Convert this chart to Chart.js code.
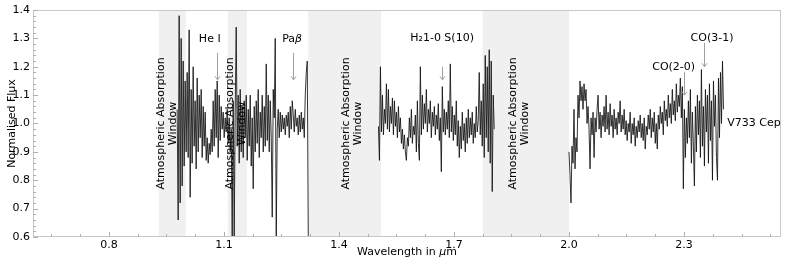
<!DOCTYPE html>
<html>
<head>
<meta charset="utf-8">
<script src="https://cdn.jsdelivr.net/npm/chart.js@4"></script>
<style>
  html, body { margin: 0; padding: 0; background: #fff; }
  #wrap { width: 789px; height: 263px; }
</style>
</head>
<body>
<div id="wrap"><canvas id="spec" width="789" height="263"></canvas></div>
<script>
// axis ticks
const xTicks = [0.8, 1.1, 1.4, 1.7, 2.0, 2.3];
const yTicks = [0.6, 0.7, 0.8, 0.9, 1.0, 1.1, 1.2, 1.3, 1.4];

// atmospheric absorption windows (um) and where their labels sit
const bands = [[0.93, 1.0], [1.11, 1.16], [1.32, 1.51], [1.775, 2.0]];
const bandLabelX = [0.952, 1.132, 1.435, 1.871];

// spectral lines: label, arrow wavelength, label pos, arrow start/end flux
const lineNames = ["He I", "Paβ", "H₂1-0 S(10)", "CO(2-0)", "CO(3-1)"];
const lineWave = [1.083, 1.280, 1.669, 2.301, 2.353];
const lineTextX = [1.063, 1.278, 1.669, 2.273, 2.373];
const lineTextY = [1.298, 1.298, 1.302, 1.200, 1.301];
const arrowTop = [1.249, 1.249, 1.200, 1.182, 1.284];
const arrowTip = [1.154, 1.154, 1.154, 1.100, 1.200];

// spectrum, three pieces (J, H, K), evenly sampled between start and end wavelength
const jRange = [0.978, 1.320];
const jFlux = [
  1.05, 0.66, 1.38, 0.72, 1.30, 0.78, 1.22, 0.85, 1.15, 0.90,
  1.18, 0.88, 1.33, 0.74, 1.12, 0.86, 1.20, 0.92, 1.08, 0.84,
  1.16, 0.90, 1.10, 0.95, 1.12, 0.88, 1.06, 0.92, 1.04, 0.87,
  0.95, 0.86, 0.93, 0.89, 0.98, 0.90, 1.08, 0.92, 1.12, 0.95,
  1.15, 0.88, 1.10, 0.94, 1.06, 0.98, 1.04, 0.95, 1.02, 0.97,
  1.05, 0.93, 1.02, 0.90, 0.98, 0.60, 1.08, 0.60, 1.05, 1.34,
  0.92, 1.10, 0.86, 1.12, 0.90, 1.06, 0.88, 1.08, 0.95, 1.10,
  0.87, 1.05, 0.92, 1.10, 0.85, 1.02, 0.77, 1.06, 0.90, 1.08,
  0.93, 1.12, 0.88, 1.04, 0.95, 1.10, 0.90, 1.06, 0.92, 1.21,
  0.94, 1.10, 0.90, 1.08, 0.95, 0.67, 1.12, 1.02, 1.30, 0.60,
  0.98, 1.05, 0.95, 1.04, 0.97, 1.03, 0.98, 1.02, 0.96, 1.03,
  0.99, 1.04, 0.95, 1.06, 0.98, 1.08, 1.03, 0.97, 1.05, 0.99,
  1.02, 0.96, 1.03, 0.97, 1.04, 0.98, 1.02, 0.95, 1.10, 1.18,
  1.22, 0.60
];
const hRange = [1.503, 1.805];
const hFlux = [
  0.99, 0.87, 1.20, 0.97, 1.10, 0.96, 1.05, 1.00, 1.14, 0.98,
  1.12, 0.97, 1.06, 1.00, 1.09, 0.96, 1.08, 0.99, 1.04, 0.95,
  1.06, 0.97, 1.02, 0.93, 0.98, 0.91, 0.96, 0.90, 0.87, 0.95,
  0.92, 1.02, 0.95, 1.05, 0.93, 0.99, 0.96, 1.03, 0.90, 1.08,
  0.93, 0.87, 1.20, 0.96, 1.10, 0.98, 1.07, 1.00, 1.12, 0.97,
  1.05, 1.00, 1.08, 0.95, 1.04, 0.99, 1.06, 0.96, 1.03, 0.98,
  1.07, 0.94, 1.02, 0.83, 1.13, 0.97, 1.05, 0.96, 1.04, 0.98,
  1.08, 0.95, 1.21, 0.97, 1.06, 0.94, 1.03, 0.96, 1.08, 0.92,
  1.01, 0.88, 0.99, 0.91, 1.04, 0.94, 1.00, 0.90, 1.02, 0.93,
  1.05, 0.95, 1.02, 0.96, 1.04, 0.93, 1.00, 0.95, 1.06, 0.97,
  1.01, 1.18, 0.96, 1.08, 0.92, 1.14, 0.88, 1.24, 0.95, 1.20,
  0.90, 1.26, 0.86, 1.22, 0.76, 1.10, 0.98
];
const kRange = [2.0, 2.403];
const kFlux = [
  0.90, 0.82, 0.72, 0.92, 0.86, 1.05, 0.84, 0.95, 0.90, 1.10,
  1.02, 1.15, 1.08, 1.13, 1.05, 1.14, 1.08, 1.12, 1.00, 1.06,
  0.98, 0.84, 1.02, 0.96, 1.04, 0.88, 1.02, 0.97, 1.05, 1.10,
  0.98, 1.04, 0.95, 1.03, 0.99, 1.06, 0.97, 1.10, 0.98, 1.04,
  0.96, 1.07, 0.99, 1.03, 0.95, 1.05, 0.98, 1.02, 0.96, 1.04,
  1.00, 1.08, 0.97, 1.03, 0.98, 1.05, 0.96, 1.01, 0.94, 1.00,
  0.97, 1.04, 0.93, 1.00, 0.96, 1.02, 0.92, 0.99, 0.95, 1.01,
  0.97, 1.03, 0.95, 1.00, 0.94, 1.02, 0.91, 0.99, 0.96, 1.03,
  0.98, 1.05, 0.95, 1.02, 0.97, 1.04, 0.93, 1.00, 0.91, 1.03,
  0.98, 1.06, 1.00, 1.04, 0.96, 1.08, 1.01, 1.05, 0.99, 1.10,
  1.02, 1.07, 1.00, 1.12, 1.03, 1.08, 1.01, 1.14, 1.04, 1.10,
  1.06, 1.16, 1.02, 1.13, 0.77, 1.05, 0.88, 1.02, 0.93, 1.08,
  0.95, 1.12, 0.86, 1.04, 0.92, 0.78, 1.06, 0.90, 1.10, 0.96,
  1.08, 0.88, 1.19, 0.92, 1.06, 0.85, 1.12, 0.97, 1.10, 0.86,
  1.14, 0.94, 1.08, 0.80, 1.15, 0.99, 1.10, 0.88, 0.80, 1.16,
  0.95, 1.18, 1.00, 1.22, 1.05
];

const FONT = "'DejaVu Sans', sans-serif";

function toPoints(range, flux) {
  const step = (range[1] - range[0]) / (flux.length - 1);
  return flux.map((f, i) => ({ x: range[0] + i * step, y: f }));
}

function segment(range, flux) {
  return {
    data: toPoints(range, flux),
    borderColor: "#111",
    borderWidth: 0.85,
    pointRadius: 0,
    tension: 0
  };
}

// draw text made of pieces, some italic, centred on (cx, cy)
function mixedText(ctx, parts, cx, cy) {
  let w = 0;
  parts.forEach(p => {
    ctx.font = (p.it ? "italic " : "") + "11px " + FONT;
    w += ctx.measureText(p.t).width;
  });
  let x = cx - w / 2;
  ctx.textAlign = "left";
  parts.forEach(p => {
    ctx.font = (p.it ? "italic " : "") + "11px " + FONT;
    ctx.fillText(p.t, x, cy);
    x += ctx.measureText(p.t).width;
  });
}

const deco = {
  id: "deco",
  beforeDatasetsDraw(chart) {
    const { ctx, chartArea: a, scales: { x } } = chart;
    ctx.save();
    ctx.fillStyle = "#f0f0f0";
    bands.forEach(([b0, b1]) => {
      const p0 = x.getPixelForValue(b0), p1 = x.getPixelForValue(b1);
      ctx.fillRect(p0, a.top, p1 - p0, a.bottom - a.top);
    });
    ctx.restore();
  },
  afterDatasetsDraw(chart) {
    const { ctx, chartArea: a, scales: { x, y } } = chart;
    ctx.save();

    // frame
    ctx.strokeStyle = "#c8c8c8";
    ctx.lineWidth = 1;
    ctx.strokeRect(Math.round(a.left) + 0.5, Math.round(a.top) + 0.5,
      Math.round(a.right - a.left) - 1, Math.round(a.bottom - a.top) - 1);

    // tick marks (inside), major + minor
    ctx.strokeStyle = "#b0b0b0";
    ctx.beginPath();
    const xStep = (xTicks[1] - xTicks[0]) / 4;
    for (let v = xTicks[0] - 3 * xStep; v <= x.max; v += xStep) {
      if (v < x.min) continue;
      const px = Math.round(x.getPixelForValue(v)) + 0.5;
      const major = xTicks.some(t => Math.abs(t - v) < 1e-6);
      ctx.moveTo(px, a.bottom);
      ctx.lineTo(px, a.bottom - (major ? 5 : 3));
    }
    for (let v = y.min; v <= y.max + 1e-6; v += 0.02) {
      const py = Math.round(y.getPixelForValue(v)) + 0.5;
      const major = yTicks.some(t => Math.abs(t - v) < 1e-6);
      ctx.moveTo(a.left, py);
      ctx.lineTo(a.left + (major ? 5 : 3), py);
    }
    ctx.stroke();

    // absorption window labels
    ctx.fillStyle = "#000";
    ctx.font = "11px " + FONT;
    ctx.textAlign = "center";
    ctx.textBaseline = "middle";
    bandLabelX.forEach(bx => {
      ctx.save();
      ctx.translate(x.getPixelForValue(bx), y.getPixelForValue(1.0));
      ctx.rotate(-Math.PI / 2);
      ctx.fillText("Atmospheric Absorption", 0, -6);
      ctx.fillText("Window", 0, 6);
      ctx.restore();
    });

    // line identifications with arrows
    lineNames.forEach((name, i) => {
      const tx = x.getPixelForValue(lineTextX[i]);
      const ty = y.getPixelForValue(lineTextY[i]);
      ctx.fillStyle = "#000";
      if (name === "Paβ") {
        mixedText(ctx, [{ t: "Pa" }, { t: "β", it: true }], tx, ty);
      } else {
        ctx.font = "11px " + FONT;
        ctx.textAlign = "center";
        ctx.fillText(name, tx, ty);
      }
      const ax = Math.round(x.getPixelForValue(lineWave[i])) + 0.5;
      const y0 = y.getPixelForValue(arrowTop[i]);
      const y1 = y.getPixelForValue(arrowTip[i]);
      ctx.strokeStyle = "#a0a0a0";
      ctx.lineWidth = 1;
      ctx.beginPath();
      ctx.moveTo(ax, y0);
      ctx.lineTo(ax, y1);
      ctx.moveTo(ax - 2.5, y1 - 3.5);
      ctx.lineTo(ax, y1);
      ctx.lineTo(ax + 2.5, y1 - 3.5);
      ctx.stroke();
    });

    // object name
    ctx.fillStyle = "#000";
    ctx.font = "11px " + FONT;
    ctx.textAlign = "left";
    ctx.fillText("V733 Cep", x.getPixelForValue(2.413), y.getPixelForValue(1.0));

    // axis titles
    ctx.textAlign = "center";
    mixedText(ctx, [{ t: "Wavelength in " }, { t: "μ", it: true }, { t: "m" }],
      (a.left + a.right) / 2, 252);
    ctx.save();
    ctx.translate(12, (a.top + a.bottom) / 2);
    ctx.rotate(-Math.PI / 2);
    ctx.font = "11px " + FONT;
    ctx.textAlign = "center";
    ctx.fillText("Normalised Flux", 0, 0);
    ctx.restore();

    ctx.restore();
  }
};

new Chart(document.getElementById("spec"), {
  type: "line",
  data: {
    datasets: [segment(jRange, jFlux), segment(hRange, hFlux), segment(kRange, kFlux)]
  },
  options: {
    responsive: false,
    animation: false,
    events: [],
    layout: { padding: { top: 10, right: 8, left: 0, bottom: 0 } },
    plugins: { legend: { display: false }, tooltip: { enabled: false } },
    scales: {
      x: {
        type: "linear",
        min: 0.602,
        max: 2.553,
        grid: { display: false, drawTicks: false },
        border: { display: false },
        afterBuildTicks: s => { s.ticks = xTicks.map(v => ({ value: v })); },
        afterFit: s => { s.height = 26; },
        ticks: {
          padding: 2,
          maxRotation: 0,
          color: "#000",
          font: { family: FONT, size: 11 },
          callback: v => v.toFixed(1)
        }
      },
      y: {
        min: 0.6,
        max: 1.4,
        grid: { display: false, drawTicks: false },
        border: { display: false },
        afterBuildTicks: s => { s.ticks = yTicks.map(v => ({ value: v })); },
        afterFit: s => { s.width = 33; },
        ticks: {
          padding: 3,
          color: "#000",
          font: { family: FONT, size: 11 },
          callback: v => v.toFixed(1)
        }
      }
    }
  },
  plugins: [deco]
});
</script>
</body>
</html>
